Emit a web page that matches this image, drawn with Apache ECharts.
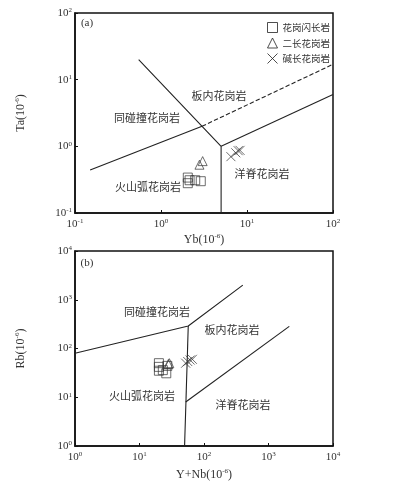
<!DOCTYPE html>
<html>
<head>
<meta charset="utf-8">
<script src="https://cdn.jsdelivr.net/npm/echarts@6/dist/echarts.min.js"></script>
<style>
  html, body { margin: 0; padding: 0; background: #fff; }
  #main { width: 399px; height: 485px; }
</style>
</head>
<body>
<div id="main"></div>
<script>
// group names
const groups = ['花岗闪长岩', '二长花岗岩', '碱长花岗岩'];

// (a) Ta vs Yb samples, [Yb, Ta]
const aGranodiorite = [[2.05, 0.34], [2.05, 0.28], [2.15, 0.31], [2.5, 0.31], [2.9, 0.30]];
const aMonzogranite = [[2.8, 0.53], [3.05, 0.6]];
const aAlkali = [[6.5, 0.7], [7.4, 0.8], [7.9, 0.86], [8.3, 0.87]];

// (a) boundaries
const aLineA = [[0.55, 20], [5, 1], [5, 0.1]];
const aLineB = [[5, 1], [100, 6]];
const aLineC = [[0.15, 0.44], [3, 2]];
const aDashed = [[3, 2], [100, 17]];

// (b) Rb vs Y+Nb samples, [Y+Nb, Rb]
const bGranodiorite = [[20, 50], [20, 42], [20, 35], [23, 36], [26, 31], [27, 44]];
const bMonzogranite = [[28, 48], [29, 50]];
const bAlkali = [[52, 50], [56, 54], [61, 58], [66, 60]];

// (b) boundaries
const bLineA = [[1, 80], [57, 290], [400, 2000]];
const bLineB = [[57, 290], [50, 1]];
const bLineC = [[52, 8], [2100, 285]];

const SERIF = '"Liberation Serif", "DejaVu Serif", serif';
const cross = 'path://M0,0L10,10M10,0L0,10';
const sym = ['rect', 'triangle', cross];
const symSize = [9, 9, 9];

let chart = echarts.init(document.getElementById('main'));

const sup = (v) => {
  const e = Math.round(Math.log10(v));
  return '{b|10}{s|' + e + '}';
};
const rich = {
  b: { fontSize: 11, lineHeight: 12, color: '#333', fontFamily: SERIF },
  s: { fontSize: 7, lineHeight: 7, verticalAlign: 'top', color: '#333', fontFamily: SERIF },
};
const nameRich = {
  b: { fontSize: 12, lineHeight: 13, color: '#333', fontFamily: SERIF },
  s: { fontSize: 7, lineHeight: 7, verticalAlign: 'top', color: '#333', fontFamily: SERIF },
};

const axisBase = (min, max) => ({
  type: 'log',
  logBase: 10,
  min: min,
  max: max,
  axisLine: { lineStyle: { color: '#111', width: 1.5 } },
  axisTick: { inside: true, length: 3, lineStyle: { color: '#111' } },
  splitLine: { show: false },
  minorTick: { show: false },
});

const line = (data, x, dashed) => ({
  type: 'line',
  xAxisIndex: x,
  yAxisIndex: x,
  data: data,
  symbol: 'none',
  silent: true,
  z: 1,
  lineStyle: { color: '#222', width: 1.1, type: dashed ? 'dashed' : 'solid' },
});

const pts = (data, g, x) => ({
  type: 'scatter',
  name: groups[g],
  xAxisIndex: x,
  yAxisIndex: x,
  data: data,
  symbol: sym[g],
  symbolSize: symSize[g],
  z: 3,
  itemStyle: { color: 'rgba(255,255,255,0)', borderColor: '#333', borderWidth: 0.9 },
});

const label = (text, x, y, family) => ({
  type: 'text',
  x: x,
  y: y,
  style: {
    text: text,
    fill: '#333',
    font: '11px ' + (family || '"Noto Sans CJK SC"'),
    align: 'center',
    verticalAlign: 'middle',
  },
});

const nameStyle = { fontFamily: SERIF, fontSize: 12, color: '#333', rich: nameRich };
const tickStyle = (m) => ({ formatter: sup, rich: rich, margin: m, fontFamily: SERIF, fontSize: 11, color: '#333' });

chart.setOption({
  animation: false,
  grid: [
    { left: 75, top: 13, width: 258, height: 200, show: true, borderColor: '#111', borderWidth: 1.5 },
    { left: 75, top: 251, width: 258, height: 195, show: true, borderColor: '#111', borderWidth: 1.5 },
  ],
  xAxis: [
    Object.assign(axisBase(0.1, 100), {
      gridIndex: 0,
      name: '{b|Yb(10}{s|-6}{b|)}', nameLocation: 'middle', nameGap: 20,
      nameTextStyle: nameStyle,
      axisLabel: tickStyle(5),
    }),
    Object.assign(axisBase(1, 10000), {
      gridIndex: 1,
      name: '{b|Y+Nb(10}{s|-6}{b|)}', nameLocation: 'middle', nameGap: 22,
      nameTextStyle: nameStyle,
      axisLabel: tickStyle(5),
    }),
  ],
  yAxis: [
    Object.assign(axisBase(0.1, 100), {
      gridIndex: 0,
      name: '{b|Ta(10}{s|-6}{b|)}', nameLocation: 'middle', nameGap: 48,
      nameTextStyle: nameStyle,
      axisLabel: tickStyle(3),
    }),
    Object.assign(axisBase(1, 10000), {
      gridIndex: 1,
      name: '{b|Rb(10}{s|-6}{b|)}', nameLocation: 'middle', nameGap: 48,
      nameTextStyle: nameStyle,
      axisLabel: tickStyle(3),
    }),
  ],
  legend: {
    data: groups,
    left: 262,
    top: 17,
    orient: 'vertical',
    itemWidth: 10,
    itemHeight: 10,
    itemGap: 4.5,
    itemStyle: { borderWidth: 1, borderColor: '#222', color: 'rgba(255,255,255,0)' },
    textStyle: { fontSize: 9.5, color: '#333', fontFamily: 'Noto Sans CJK SC' },
  },
  graphic: [
    label('(a)', 87, 23, SERIF),
    label('板内花岗岩', 219, 96),
    label('同碰撞花岗岩', 147, 118),
    label('火山弧花岗岩', 148, 187),
    label('洋脊花岗岩', 262, 174),
    label('(b)', 87, 263, SERIF),
    label('同碰撞花岗岩', 157, 312),
    label('板内花岗岩', 232, 330),
    label('火山弧花岗岩', 142, 396),
    label('洋脊花岗岩', 243, 405),
  ],
  series: [
    line(aLineA, 0), line(aLineB, 0), line(aLineC, 0), line(aDashed, 0, true),
    line(bLineA, 1), line(bLineB, 1), line(bLineC, 1),
    pts(aGranodiorite, 0, 0), pts(aMonzogranite, 1, 0), pts(aAlkali, 2, 0),
    pts(bGranodiorite, 0, 1), pts(bMonzogranite, 1, 1), pts(bAlkali, 2, 1),
  ],
});
</script>
</body>
</html>
